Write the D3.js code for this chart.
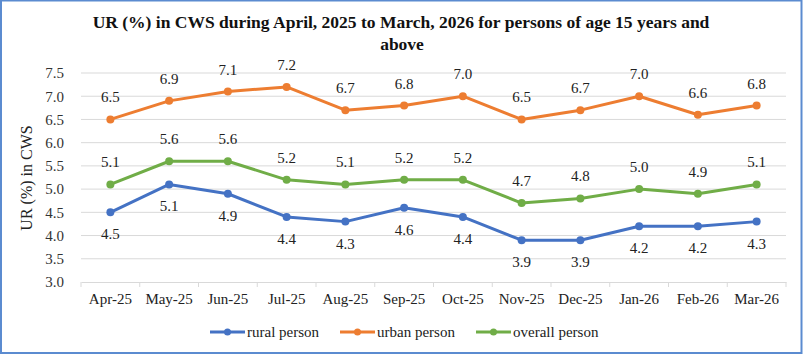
<!DOCTYPE html>
<html><head><meta charset="utf-8">
<script src="https://cdn.jsdelivr.net/npm/d3@7"></script>
<style>body{margin:0;background:#fff}svg{display:block}</style>
</head><body>
<svg id="c" width="803" height="355"></svg>
<script>
const months = ["Apr-25","May-25","Jun-25","Jul-25","Aug-25","Sep-25","Oct-25","Nov-25","Dec-25","Jan-26","Feb-26","Mar-26"];
const rural = [4.5,5.1,4.9,4.4,4.3,4.6,4.4,3.9,3.9,4.2,4.2,4.3];
const urban = [6.5,6.9,7.1,7.2,6.7,6.8,7.0,6.5,6.7,7.0,6.6,6.8];
const overall = [5.1,5.6,5.6,5.2,5.1,5.2,5.2,4.7,4.8,5.0,4.9,5.1];
const yTicks = [3.0,3.5,4.0,4.5,5.0,5.5,6.0,6.5,7.0,7.5];
const seriesNames = ["rural person","urban person","overall person"];

const series = [
  {name: seriesNames[0], values: rural, color: "#4472C4", pos: "below"},
  {name: seriesNames[1], values: urban, color: "#ED7D31", pos: "above"},
  {name: seriesNames[2], values: overall, color: "#70AD47", pos: "above"}
];

const svg = d3.select("#c");
const font = "Liberation Serif, serif";
const L = 81, R = 786, T = 73, B = 282;

// frame
svg.append("rect").attr("x",1).attr("y",0.5).attr("width",800.5).attr("height",352.5)
  .attr("fill","none").attr("stroke","#5B8BD0").attr("stroke-width",2);

const x = d3.scaleBand().domain(months).range([L,R]);
const y = d3.scaleLinear().domain([3.0,7.5]).range([B,T]);

// grid
svg.append("g").selectAll("line").data(yTicks.slice(1)).join("line")
  .attr("x1",L).attr("x2",R).attr("y1",d=>y(d)).attr("y2",d=>y(d))
  .attr("stroke","#d9d9d9").attr("stroke-width",1);

// y axis labels
const yAxis = svg.append("g").attr("transform",`translate(${L},0)`)
  .call(d3.axisLeft(y).tickValues(yTicks).tickFormat(d3.format(".1f")).tickSize(0).tickPadding(17));
yAxis.attr("font-family",font).attr("font-size",15);
yAxis.select(".domain").remove();
yAxis.selectAll("text").style("font-family",font).style("font-size","15px").attr("fill","#333");

// x axis
const xAxis = svg.append("g").attr("transform",`translate(0,${B})`)
  .call(d3.axisBottom(x).tickSize(0).tickPadding(11));
xAxis.attr("font-family",font).attr("font-size",15);
xAxis.select(".domain").attr("stroke","#d9d9d9");
xAxis.selectAll("text").style("font-family",font).style("font-size","15px").attr("fill","#222");
const bounds = months.map(m=>x(m)).concat([R]);
svg.append("g").selectAll("line").data(bounds).join("line")
  .attr("x1",d=>d).attr("x2",d=>d).attr("y1",B).attr("y2",B+5)
  .attr("stroke","#d9d9d9");

// y axis title
svg.append("text").attr("transform","translate(32,178) rotate(-90)")
  .attr("text-anchor","middle").style("font-family",font).style("font-size","16px").attr("fill","#222")
  .text("UR (%) in CWS");

// title
const title = svg.append("text").attr("text-anchor","middle").style("font-family",font)
  .style("font-size","17.5px").attr("font-weight","bold").attr("fill","#111");
title.append("tspan").attr("x",401).attr("y",28).text("UR (%) in CWS during April, 2025 to March, 2026 for persons of age 15 years and");
title.append("tspan").attr("x",402).attr("y",50).text("above");

const cx = m => x(m) + x.bandwidth()/2;
const line = d3.line().x((d,i)=>cx(months[i])).y(d=>y(d));

series.forEach(s=>{
  const g = svg.append("g");
  g.append("path").datum(s.values).attr("d",line).attr("fill","none")
    .attr("stroke",s.color).attr("stroke-width",3).attr("stroke-linejoin","round");
  g.selectAll("circle").data(s.values).join("circle")
    .attr("cx",(d,i)=>cx(months[i])).attr("cy",d=>y(d)).attr("r",4).attr("fill",s.color);
  g.selectAll("text").data(s.values).join("text")
    .attr("x",(d,i)=>cx(months[i]))
    .attr("y",d=>s.pos==="above" ? y(d)-17 : y(d)+27)
    .attr("text-anchor","middle").style("font-family",font).style("font-size","15px").attr("fill","#222")
    .text(d=>d3.format(".1f")(d));
});

// legend
const legX = [210, 340, 476];
series.forEach((s,i)=>{
  const g = svg.append("g").attr("transform",`translate(${legX[i]},332)`);
  g.append("line").attr("x1",0).attr("x2",35).attr("stroke",s.color).attr("stroke-width",3);
  g.append("circle").attr("cx",17.5).attr("r",3.5).attr("fill",s.color);
  g.append("text").attr("x",37).attr("y",5).style("font-family",font).style("font-size","15px").attr("fill","#222").text(s.name);
});
</script>
</body></html>
